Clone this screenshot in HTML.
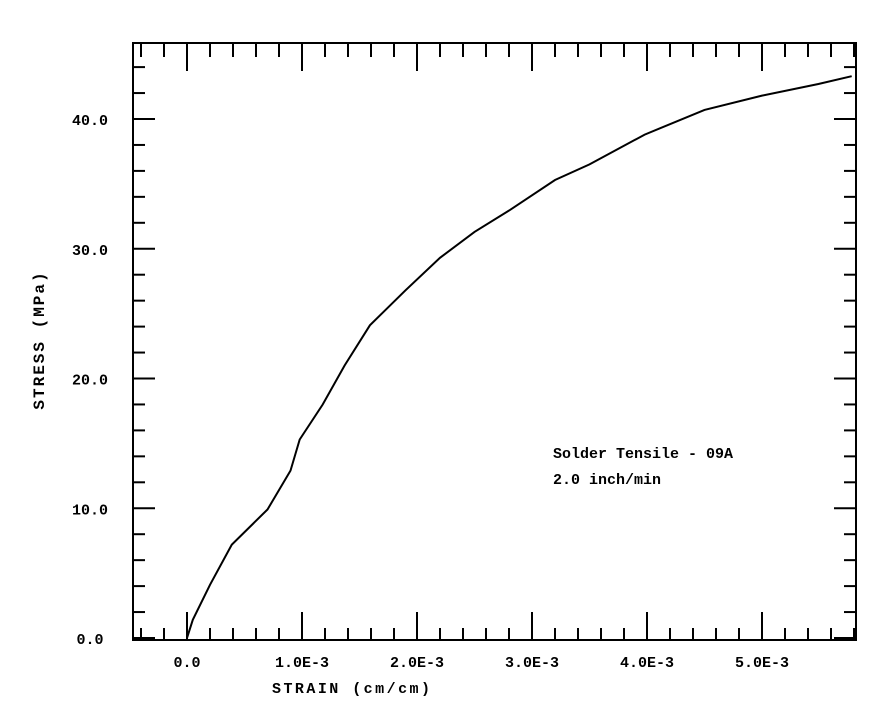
<!DOCTYPE html>
<html><head><meta charset="utf-8"><style>
body{margin:0;background:#fff;width:882px;height:715px;overflow:hidden}
svg text{font-family:"Liberation Mono",monospace;font-weight:bold;fill:#000}
</style></head><body>
<svg id="c" width="882" height="715">
<rect x="133" y="43" width="723" height="597" fill="none" stroke="#000" stroke-width="2"/>
<g id="ticks"></g>
<path id="curve" fill="none" stroke="#000" stroke-width="2"/>
<text x="553" y="458" font-size="15">Solder Tensile - 09A</text>
<text x="553" y="484" font-size="15">2.0 inch/min</text>
<text x="272" y="693" font-size="15" textLength="158">STRAIN (cm/cm)</text>
<text transform="translate(44,340) rotate(-90)" text-anchor="middle" font-size="16" letter-spacing="2">STRESS (MPa)</text>
</svg>
<script>
const strain=[0,0.05,0.2,0.39,0.7,0.9,0.98,1.18,1.37,1.59,1.9,2.2,2.5,2.81,3.2,3.5,3.98,4.5,5.0,5.49,5.78];
const stress=[0,1.4,4.1,7.2,9.9,12.9,15.3,18,21,24.1,26.8,29.3,31.3,33,35.3,36.5,38.8,40.7,41.8,42.7,43.3];
const xTicks=[0,1,2,3,4,5];
const xLabels=["0.0","1.0E-3","2.0E-3","3.0E-3","4.0E-3","5.0E-3"];
const yTicks=[0,10,20,30,40];
const yLabels=["0.0","10.0","20.0","30.0","40.0"];
const X=v=>187+v*115, Y=v=>638-v*12.975;
const ns="http://www.w3.org/2000/svg", g=document.getElementById('ticks');
function line(x1,y1,x2,y2,n){const l=document.createElementNS(ns,'line');
l.setAttribute('x1',x1);l.setAttribute('y1',y1);l.setAttribute('x2',x2);l.setAttribute('y2',y2);
l.setAttribute('stroke','#000');l.setAttribute('stroke-width','2');


g.appendChild(l);}
function text(x,y,s,n){const t=document.createElementNS(ns,'text');
t.setAttribute('x',x);t.setAttribute('y',y);t.setAttribute('font-size','15');t.setAttribute('text-anchor','middle');t.textContent=s;


g.appendChild(t);}
for(let v=-0.4;v<5.85;v+=0.2){const x=X(v);const maj=Math.abs(v-Math.round(v))<0.01;
line(x,640,x,maj?612:628,'x-tick');line(x,43,x,maj?71:57,'x-tick-top');}
for(let v=0;v<46;v+=2){const y=Y(v);const maj=v%10==0;
line(133,y,maj?155:145,y,'y-tick');line(856,y,maj?834:844,y,'y-tick-right');}
xTicks.forEach((v,i)=>text(X(v),667,xLabels[i],'x-tick-label'));
yTicks.forEach((v,i)=>text(90,Y(v)+6,yLabels[i],'y-tick-label'));
let d='';strain.forEach((s,i)=>{d+=(i?'L':'M')+X(s).toFixed(1)+' '+Y(stress[i]).toFixed(1)});
document.getElementById('curve').setAttribute('d',d);
</script>
</body></html>
